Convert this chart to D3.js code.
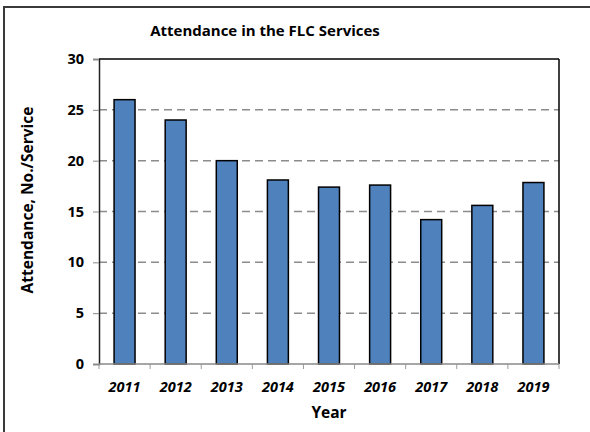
<!DOCTYPE html>
<html><head><meta charset="utf-8">
<script src="https://cdn.jsdelivr.net/npm/d3@7"></script>
<style>body{margin:0;background:#fff}svg{display:block}text{font-family:"Open Sans",sans-serif;font-weight:bold;fill:#000}</style>
</head><body>
<svg id="c" width="590" height="432"></svg>
<script>
const years = ["2011","2012","2013","2014","2015","2016","2017","2018","2019"];
const attendance = [26.0, 24.0, 20.0, 18.1, 17.4, 17.6, 14.2, 15.6, 17.85];
const yTicks = [0,5,10,15,20,25,30];

const svg = d3.select("#c");
const L=99, R=559, T=59, B=364;
// outer frame
svg.append("rect").attr("x",4).attr("y",7).attr("width",600).attr("height",440)
  .attr("fill","#fff").attr("stroke","#3a3a3a").attr("stroke-width",2);

const x = d3.scaleBand().domain(years).range([L,R]).paddingInner(0.59).paddingOuter(0.295);
const y = d3.scaleLinear().domain([0,30]).range([B,T]);

// gridlines
svg.append("g").selectAll("line").data(yTicks.filter(d=>d>0&&d<30)).join("line")
  .attr("x1",L).attr("x2",R).attr("y1",d=>y(d)).attr("y2",d=>y(d))
  .attr("stroke","#8c8c8c").attr("stroke-width",1.5).attr("stroke-dasharray","8,5");

// plot border top & right
svg.append("line").attr("x1",L).attr("x2",R).attr("y1",T).attr("y2",T).attr("stroke","#000").attr("stroke-width",1.5);
svg.append("line").attr("x1",R).attr("x2",R).attr("y1",T).attr("y2",B).attr("stroke","#000").attr("stroke-width",1.5);

// bars
svg.append("g").selectAll("rect").data(years).join("rect")
  .attr("x",d=>x(d)).attr("width",x.bandwidth())
  .attr("y",(d,i)=>y(attendance[i])).attr("height",(d,i)=>B-y(attendance[i]))
  .attr("fill","#4f81bd").attr("stroke","#000").attr("stroke-width",1.5);

// y axis
const ya = svg.append("g").attr("transform",`translate(${L},0)`)
  .call(d3.axisLeft(y).tickValues(yTicks).tickSize(6).tickPadding(9));
ya.select(".domain").attr("stroke","#222").attr("stroke-width",1.5);
ya.selectAll(".tick line").attr("stroke","#888");
ya.selectAll("text").style("font-size","14.5px").style("font-family","'Open Sans',sans-serif").style("font-weight","bold").attr("fill","#000");

// x axis
const step = x.step();
const xa = svg.append("g").attr("transform",`translate(0,${B})`);
xa.append("line").attr("x1",L).attr("x2",R).attr("stroke","#888").attr("stroke-width",1.5);
xa.selectAll("line.t").data(d3.range(years.length+1)).join("line").attr("class","t")
  .attr("x1",i=>L+i*step).attr("x2",i=>L+i*step).attr("y1",0).attr("y2",5)
  .attr("stroke","#999").attr("stroke-width",1);
xa.selectAll("text").data(years).join("text")
  .attr("x",d=>x(d)+x.bandwidth()/2).attr("y",28).attr("text-anchor","middle")
  .style("font-size","14.5px").style("font-style","italic").text(d=>d);

// titles
svg.append("text").attr("x",265).attr("y",36).attr("text-anchor","middle")
  .style("font-size","15px").text("Attendance in the FLC Services");
svg.append("text").attr("x",329).attr("y",418).attr("text-anchor","middle")
  .style("font-size","15.5px").text("Year");
svg.append("text").attr("transform","translate(33,200) rotate(-90)").attr("text-anchor","middle")
  .style("font-size","15.5px").text("Attendance, No./Service");
</script>
</body></html>
